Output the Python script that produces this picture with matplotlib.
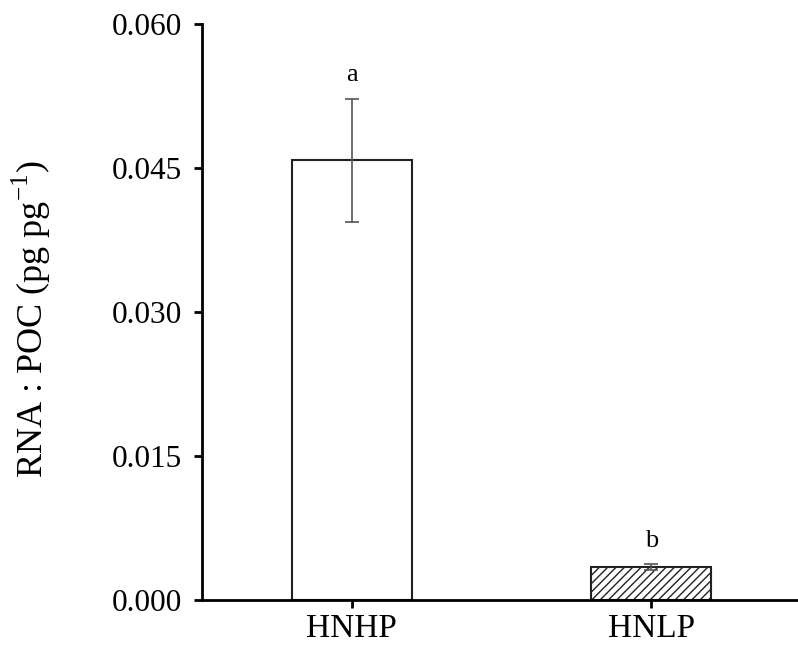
import numpy as np
import matplotlib.pyplot as plt

plt.rcParams['font.family'] = ['Liberation Serif', 'DejaVu Serif']
plt.rcParams['mathtext.fontset'] = 'custom'
plt.rcParams['mathtext.rm'] = 'Liberation Serif'

groups = ["HNHP", "HNLP"]
values = [0.0458, 0.0034]
errors = [0.0064, 0.0003]
letters = ["a", "b"]
hatches = ["", "////"]

fig = plt.figure(figsize=(7.98, 6.53), dpi=100)
ax = fig.add_axes([0.253, 0.0812, 0.747, 0.882])

x = np.arange(1, len(groups) + 1)
for i in range(len(groups)):
    ax.bar(x[i], values[i], width=0.4, color="white", edgecolor="#222222",
           linewidth=1.5, hatch=hatches[i], zorder=2)
    ax.errorbar(x[i], values[i], yerr=errors[i], fmt="none", ecolor="#555555",
                elinewidth=1.2, capsize=5, capthick=1.2, zorder=3)
    ax.text(x[i], values[i] + errors[i] + 0.0013, letters[i], ha="center",
            va="bottom", fontsize=19)

ax.set_xlim(0.5, 2.49)
ax.set_ylim(0, 0.060)
ax.set_yticks([0.000, 0.015, 0.030, 0.045, 0.060])
ax.set_yticklabels(["0.000", "0.015", "0.030", "0.045", "0.060"])
ax.set_xticks(x)
ax.set_xticklabels(groups)
ax.tick_params(axis="both", width=2, length=6, direction="out")
ax.tick_params(axis="y", labelsize=22.5, pad=8)
ax.tick_params(axis="x", labelsize=24)
ax.set_ylabel("RNA : POC (pg pg$^{-1}$)", fontsize=26)
ax.yaxis.set_label_coords(-0.249, 0.488)

ax.spines["top"].set_visible(False)
ax.spines["right"].set_visible(False)
ax.spines["left"].set_linewidth(2)
ax.spines["bottom"].set_linewidth(2)

plt.savefig("out.png", dpi=100)
